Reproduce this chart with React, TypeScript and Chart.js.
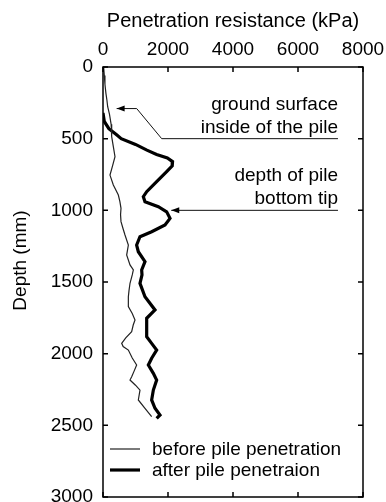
import { useEffect, useRef } from "react";
import { Chart, registerables } from "chart.js";

Chart.register(...registerables);

// ---- data ----
const beforeDepth = [0, 60, 120, 184, 230, 277, 330, 400, 486, 556, 626, 684, 754, 823, 893, 940, 986, 1030, 1079, 1130, 1172, 1242, 1312, 1381, 1416, 1451, 1509, 1560, 1603, 1672, 1720, 1765, 1800, 1847, 1890, 1928, 1950, 1975, 2030, 2079, 2120, 2161, 2184, 2220, 2254, 2323, 2381, 2440];
const beforeValue = [20, 40, 60, 90, 120, 144, 200, 250, 267, 318, 369, 300, 215, 318, 472, 520, 554, 540, 554, 620, 677, 780, 728, 831, 934, 900, 831, 800, 780, 780, 900, 985, 930, 882, 700, 575, 620, 780, 900, 1035, 960, 882, 831, 1000, 1138, 1087, 1292, 1497];

const afterDepth = [320, 380, 430, 470, 500, 540, 580, 610, 635, 660, 690, 730, 800, 870, 905, 940, 975, 1010, 1056, 1102, 1149, 1184, 1242, 1289, 1358, 1416, 1451, 1509, 1603, 1695, 1753, 1882, 1928, 1975, 2032, 2079, 2137, 2184, 2254, 2323, 2381, 2428, 2451];
const afterValue = [0, 40, 180, 400, 560, 1000, 1350, 1650, 1980, 2140, 2130, 1959, 1651, 1344, 1241, 1292, 1703, 1959, 2062, 1908, 1497, 1138, 1035, 1087, 1292, 1190, 1200, 1138, 1292, 1600, 1344, 1344, 1497, 1651, 1497, 1395, 1549, 1651, 1549, 1497, 1600, 1754, 1651];

const seriesLabels = ["before pile penetration", "after pile penetraion"];
const xTicks = [0, 2000, 4000, 6000, 8000];
const yTicks = [0, 500, 1000, 1500, 2000, 2500, 3000];
const xTitle = "Penetration resistance (kPa)";
const yTitle = "Depth (mm)";

const noteLines = [
  ["ground surface", "inside of the pile"],
  ["depth of pile", "bottom tip"],
];
const noteDepth = [500, 1000]; // underline depth
const noteRight = 7230; // right end of underline (kPa)
// leader paths from underline start to arrow tip: [value, depth]
const notePaths = [
  [[1806, 500], [1037, 290], [420, 290]],
  [[2100, 1000]],
];

const FONT = "'Liberation Sans', Arial, Helvetica, sans-serif";

const toPairs = (d: number[], v: number[]) => d.map((dep, i) => ({ x: v[i], y: dep }));

const decorPlugin = {
  id: "decor",
  afterDatasetsDraw(chart: any) {
    const { ctx, chartArea: a, scales } = chart;
    const x = scales.x;
    const y = scales.y;
    ctx.save();
    // frame
    ctx.strokeStyle = "#000";
    ctx.lineWidth = 1.5;
    ctx.strokeRect(a.left, a.top, a.right - a.left, a.bottom - a.top);
    // inward ticks
    const L = 5;
    ctx.beginPath();
    for (const v of xTicks) {
      const px = x.getPixelForValue(v);
      ctx.moveTo(px, a.top);
      ctx.lineTo(px, a.top + L);
      ctx.moveTo(px, a.bottom);
      ctx.lineTo(px, a.bottom - L);
    }
    for (const v of yTicks) {
      const py = y.getPixelForValue(v);
      ctx.moveTo(a.left, py);
      ctx.lineTo(a.left + L, py);
      ctx.moveTo(a.right, py);
      ctx.lineTo(a.right - L, py);
    }
    ctx.stroke();

    // y-axis title
    ctx.save();
    ctx.translate(21, y.getPixelForValue(1350));
    ctx.rotate(-Math.PI / 2);
    ctx.font = `19px ${FONT}`;
    ctx.fillStyle = "#000";
    ctx.textAlign = "center";
    ctx.textBaseline = "middle";
    ctx.fillText(yTitle, 0, 0);
    ctx.restore();

    // annotations
    ctx.font = `19px ${FONT}`;
    ctx.fillStyle = "#000";
    ctx.textAlign = "right";
    ctx.textBaseline = "alphabetic";
    const xr = x.getPixelForValue(noteRight);
    noteLines.forEach((lines, i) => {
      const uy = y.getPixelForValue(noteDepth[i]);
      const path = notePaths[i];
      ctx.strokeStyle = "#111";
      ctx.lineWidth = 1;
      ctx.beginPath();
      ctx.moveTo(xr, uy);
      let px = xr, py = uy;
      for (const [v, d] of path) {
        const nx = x.getPixelForValue(v);
        const ny = y.getPixelForValue(d);
        ctx.lineTo(nx, ny);
        px = nx; py = ny;
      }
      ctx.stroke();
      // arrow head pointing left at tip
      ctx.beginPath();
      ctx.moveTo(px, py);
      ctx.lineTo(px + 8, py - 3);
      ctx.lineTo(px + 8, py + 3);
      ctx.closePath();
      ctx.fill();
      // text
      const n = lines.length;
      lines.forEach((t, j) => {
        ctx.fillText(t, xr, uy - 6 - (n - 1 - j) * 23);
      });
    });

    // legend
    const ds = chart.data.datasets;
    ctx.textAlign = "left";
    ctx.textBaseline = "middle";
    ctx.font = `19px ${FONT}`;
    ds.forEach((d: any, i: number) => {
      const ly = a.bottom - 48 + i * 21;
      ctx.strokeStyle = d.borderColor;
      ctx.lineWidth = d.borderWidth;
      ctx.beginPath();
      ctx.moveTo(a.left + 7, ly);
      ctx.lineTo(a.left + 37, ly);
      ctx.stroke();
      ctx.fillStyle = "#000";
      ctx.fillText(d.label, a.left + 49, ly + 1);
    });
    ctx.restore();
  },
};

export default function App() {
  const ref = useRef<HTMLCanvasElement | null>(null);
  useEffect(() => {
    if (!ref.current) return;
    const chart = new Chart(ref.current, {
      type: "scatter",
      data: {
        datasets: [
          {
            label: seriesLabels[0],
            data: toPairs(beforeDepth, beforeValue),
            showLine: true,
            borderColor: "#222",
            borderWidth: 1.2,
            pointRadius: 0,
            tension: 0,
          },
          {
            label: seriesLabels[1],
            data: toPairs(afterDepth, afterValue),
            showLine: true,
            borderColor: "#000",
            borderWidth: 3.2,
            pointRadius: 0,
            tension: 0,
          },
        ],
      },
      options: {
        responsive: false,
        animation: false,
        layout: { padding: { left: 0, top: 0, right: 23, bottom: 5 } },
        plugins: { legend: { display: false }, tooltip: { enabled: false } },
        scales: {
          x: {
            type: "linear",
            position: "top",
            min: 0,
            max: 8000,
            afterBuildTicks: (s: any) => {
              s.ticks = xTicks.map((v) => ({ value: v }));
            },
            ticks: {
              color: "#000",
              font: { family: FONT, size: 19 },
              padding: 6,
              maxRotation: 0,
              callback: (v: any) => String(v),
            },
            grid: { display: false, drawTicks: false },
            border: { display: false },
            title: {
              display: true,
              text: xTitle,
              color: "#000",
              font: { family: FONT, size: 20 },
              padding: { top: 9, bottom: 0 },
            },
            afterFit: (s: any) => {
              s.height = 67;
              s.paddingLeft = 0;
              s.paddingRight = 0;
            },
          },
          y: {
            type: "linear",
            reverse: true,
            min: 0,
            max: 3000,
            afterBuildTicks: (s: any) => {
              s.ticks = yTicks.map((v) => ({ value: v }));
            },
            ticks: {
              color: "#000",
              font: { family: FONT, size: 19 },
              padding: 10,
              callback: (v: any) => String(v),
            },
            grid: { display: false, drawTicks: false },
            border: { display: false },
            title: { display: false },
            afterFit: (s: any) => {
              s.width = 103;
              s.paddingTop = 0;
              s.paddingBottom = 0;
            },
          },
        },
      },
      plugins: [decorPlugin],
    } as any);
    return () => chart.destroy();
  }, []);
  return (
    <div style={{ position: "fixed", left: 0, top: 0, width: 386, height: 502, background: "#fff" }}>
      <canvas ref={ref} width={386} height={502} style={{ display: "block" }} />
    </div>
  );
}
